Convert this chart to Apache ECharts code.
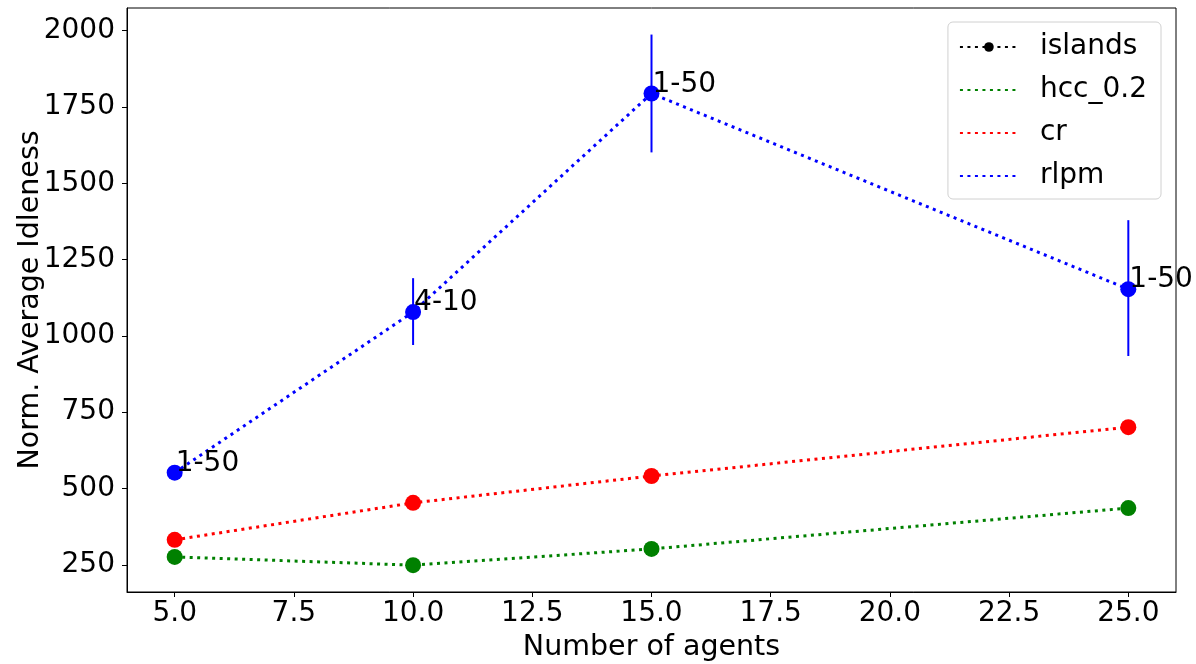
<!DOCTYPE html>
<html><head><meta charset="utf-8">
<script src="https://cdn.jsdelivr.net/npm/echarts@6/dist/echarts.min.js"></script>
<style>html,body{margin:0;padding:0;background:#fff}#c{width:1196px;height:664px}</style>
</head><body><div id="c"></div>
<script>
const agents = [5, 10, 15, 25];
const islands = [];
const hcc = [276, 249, 302, 436];
const cr = [332, 453, 541, 701];
const rlpm = [552, 1078, 1794, 1153];
const rlpmLow = [552, 970, 1601, 934];
const rlpmHigh = [552, 1189, 1987, 1379];
const rlpmLabels = ['1-50', '4-10', '1-50', '1-50'];
const xTicks = [5, 7.5, 10, 12.5, 15, 17.5, 20, 22.5, 25];
const yTicks = [250, 500, 750, 1000, 1250, 1500, 1750, 2000];

const FONT = 'DejaVu Sans';
const pts = a => agents.map((x, i) => [x, a[i]]);
const dotted = [3, 4.5];

function lineSeries(name, color, data) {
  return {
    name, type: 'line', data: pts(data), symbol: 'none', z: 2,
    lineStyle: { color, width: 3, type: dotted, cap: 'butt' },
    itemStyle: { color }
  };
}
function dotSeries(color, data, extra) {
  return Object.assign({
    type: 'scatter', data: pts(data), symbol: 'circle', symbolSize: 16, z: 4,
    itemStyle: { color, opacity: 1 }, silent: true
  }, extra || {});
}

const chart = echarts.init(document.getElementById('c'), null, { renderer: 'canvas' });
chart.setOption({
  animation: false,
  textStyle: { fontFamily: FONT },
  grid: { left: 127, right: 20, top: 8, bottom: 72, show: true, borderColor: '#000', borderWidth: 1, backgroundColor: 'transparent', outerBoundsMode: 'none', containLabel: false },
  xAxis: {
    type: 'value', min: 4, max: 26,
    name: 'Number of agents', nameLocation: 'middle', nameGap: 41, nameMoveOverlap: false,
    nameTextStyle: { fontSize: 28.5, color: '#000', fontFamily: FONT },
    axisLine: { show: true, lineStyle: { color: '#000', width: 1 } },
    axisTick: { show: true, length: 5, lineStyle: { color: '#000' }, customValues: xTicks },
    axisLabel: { fontSize: 28, color: '#000', margin: 8, fontFamily: FONT, customValues: xTicks, formatter: v => v.toFixed(1) },
    splitLine: { show: false }
  },
  yAxis: {
    type: 'value', min: 161, max: 2074,
    name: 'Norm. Average Idleness', nameLocation: 'middle', nameGap: 82, nameRotate: 90, nameMoveOverlap: false,
    nameTextStyle: { fontSize: 28.5, color: '#000', fontFamily: FONT },
    axisLine: { show: true, lineStyle: { color: '#000', width: 1 } },
    axisTick: { show: true, length: 5, lineStyle: { color: '#000' }, customValues: yTicks },
    axisLabel: { fontSize: 28, color: '#000', margin: 12, fontFamily: FONT, customValues: yTicks, formatter: v => String(v) },
    splitLine: { show: false }
  },
  legend: {
    right: 35, top: 22, orient: 'vertical',
    data: [
      { name: 'islands' },
      { name: 'hcc_0.2', itemStyle: { opacity: 0 } },
      { name: 'cr', itemStyle: { opacity: 0 } },
      { name: 'rlpm', itemStyle: { opacity: 0 } }
    ],
    itemWidth: 58, itemHeight: 12, itemGap: 13,
    padding: [10, 14, 8, 11],
    backgroundColor: '#fff', borderColor: '#d0d0d0', borderWidth: 1, borderRadius: 5,
    textStyle: { fontSize: 28, color: '#000', fontFamily: FONT, lineHeight: 30, padding: [0, 0, 0, 17] }
  },
  series: [
    {
      name: 'islands', type: 'line', data: islands, symbol: 'circle', symbolSize: 8,
      lineStyle: { color: '#000', width: 3, type: dotted }, itemStyle: { color: '#000' }
    },
    lineSeries('hcc_0.2', '#008000', hcc),
    lineSeries('cr', '#ff0000', cr),
    lineSeries('rlpm', '#0000ff', rlpm),
    {
      type: 'custom', z: 3, silent: true,
      data: agents.map((x, i) => [x, rlpmLow[i], rlpmHigh[i]]),
      renderItem: (params, api) => {
        const p1 = api.coord([api.value(0), api.value(1)]);
        const p2 = api.coord([api.value(0), api.value(2)]);
        return { type: 'line', shape: { x1: p1[0], y1: p1[1], x2: p2[0], y2: p2[1] }, style: { stroke: '#0000ff', lineWidth: 2 } };
      }
    },
    dotSeries('#008000', hcc),
    dotSeries('#ff0000', cr),
    dotSeries('#0000ff', rlpm, {
      label: {
        show: true, position: 'right', distance: 0, offset: [-7, -9],
        formatter: p => rlpmLabels[p.dataIndex],
        fontSize: 28, color: '#000', fontFamily: FONT
      }
    })
  ]
});
</script>
</body></html>
